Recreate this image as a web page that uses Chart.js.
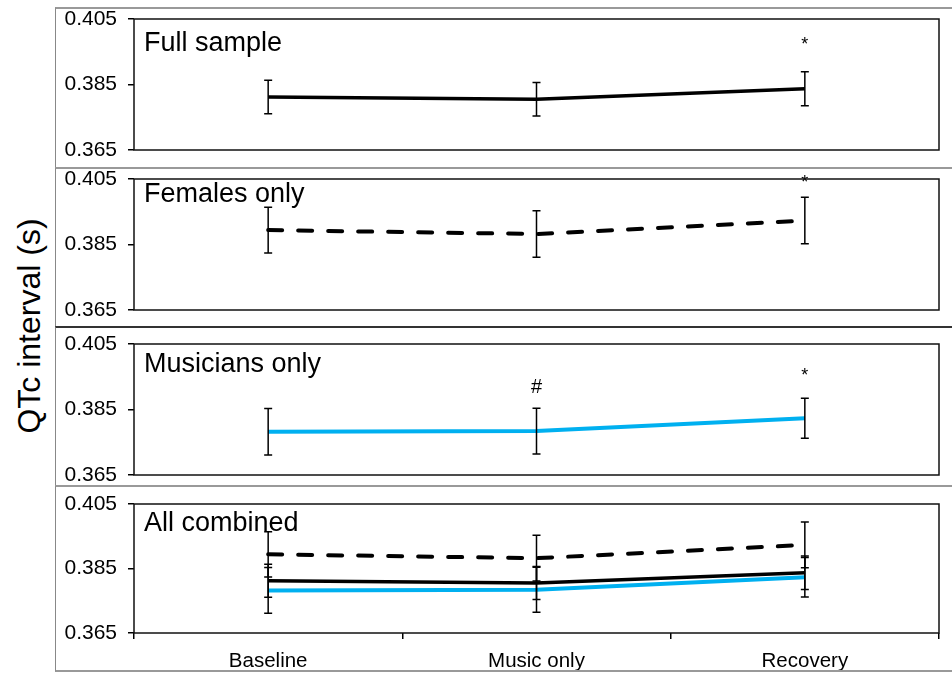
<!DOCTYPE html>
<html>
<head>
<meta charset="utf-8">
<script src="https://cdn.jsdelivr.net/npm/chart.js@4.4.0/dist/chart.umd.min.js"></script>
<style>
  html, body { margin: 0; padding: 0; background: #fff; }
  body { width: 952px; height: 673px; position: relative; overflow: hidden; font-family: "Liberation Sans", Arial, sans-serif; }
  .panel { position: absolute; left: 55px; width: 897px; box-sizing: border-box; border-left: 1px solid #888; border-top: 2px solid #999; }
  .panel canvas { display: block; }
  #p3 { border-top-color: #333; }
  #p4 { border-bottom: 2px solid #999; }
  #ytitle { position: absolute; left: 29px; top: 326px; transform: translate(-50%, -50%) rotate(-90deg); font-size: 32px; white-space: nowrap; color: #000; }
</style>
</head>
<body>
<div class="panel" id="p1" style="top:7px;height:160px"><canvas id="c1" width="896" height="158"></canvas></div>
<div class="panel" id="p2" style="top:167px;height:159px"><canvas id="c2" width="896" height="157"></canvas></div>
<div class="panel" id="p3" style="top:326px;height:159px"><canvas id="c3" width="896" height="157"></canvas></div>
<div class="panel" id="p4" style="top:485px;height:187px"><canvas id="c4" width="896" height="183"></canvas></div>
<div id="ytitle">QTc interval (s)</div>
<script>
// values
const categories = ['Baseline', 'Music only', 'Recovery'];
const fullMean = [0.3812, 0.3805, 0.3837];
const fullErr = [0.0051, 0.0051, 0.0052];
const femaleMean = [0.3894, 0.3882, 0.3923];
const femaleErr = [0.0070, 0.0071, 0.0071];
const musicianMean = [0.3782, 0.3784, 0.3823];
const musicianErr = [0.0071, 0.0070, 0.0061];
const yTicks = [0.365, 0.385, 0.405];
const fullSig = ['', '', '*'];
const femaleSig = ['', '', '*'];
const musicianSig = ['', '#', '*'];

const fontFam = '"Liberation Sans", Arial, sans-serif';

function fullSet() {
    return { label: 'Full sample', data: fullMean, errorBars: fullErr, borderColor: '#000', borderWidth: 3.5 };
}
function femaleSet() {
    return { label: 'Females only', data: femaleMean, errorBars: femaleErr, borderColor: '#000', borderWidth: 4,
             borderDash: [14, 16], borderCapStyle: 'round' };
}
function musicianSet() {
    return { label: 'Musicians only', data: musicianMean, errorBars: musicianErr, borderColor: '#00b0f0', borderWidth: 4 };
}

const panelDecor = {
    id: 'panelDecor',
    afterDatasetsDraw(chart, args, opts) {
        const { ctx, chartArea, scales } = chart;
        const x = scales.x, y = scales.y;
        ctx.save();
        // error bars
        ctx.strokeStyle = '#000';
        ctx.lineWidth = 1.5;
        chart.data.datasets.forEach(ds => {
            ds.data.forEach((v, i) => {
                const px = x.getPixelForValue(i);
                const top = y.getPixelForValue(v + ds.errorBars[i]);
                const bot = y.getPixelForValue(v - ds.errorBars[i]);
                ctx.beginPath();
                ctx.moveTo(px, top); ctx.lineTo(px, bot);
                ctx.moveTo(px - 4, top); ctx.lineTo(px + 4, top);
                ctx.moveTo(px - 4, bot); ctx.lineTo(px + 4, bot);
                ctx.stroke();
            });
        });
        // significance marks
        if (opts.sig) {
            ctx.fillStyle = '#000';
            ctx.textAlign = 'center';
            ctx.textBaseline = 'middle';
            opts.sig.forEach((s, i) => {
                if (!s) return;
                ctx.font = (s === '#' ? '20px ' : '18px ') + fontFam;
                ctx.fillText(s, x.getPixelForValue(i), y.getPixelForValue(opts.sigY[i]));
            });
        }
        // box
        ctx.strokeStyle = '#111';
        ctx.lineWidth = 1.5;
        ctx.strokeRect(chartArea.left, chartArea.top, chartArea.width, chartArea.height);
        // panel title
        ctx.font = '27px ' + fontFam;
        ctx.fillStyle = '#000';
        ctx.textAlign = 'left';
        ctx.textBaseline = 'alphabetic';
        ctx.fillText(opts.title, chartArea.left + 10, chartArea.top + opts.titleOffset);
        ctx.restore();
    }
};

function makePanel(id, datasets, decor, pad, showX) {
    new Chart(document.getElementById(id), {
        type: 'line',
        data: { labels: categories, datasets: datasets },
        plugins: [panelDecor],
        options: {
            responsive: false,
            animation: false,
            layout: { padding: { top: pad.top, bottom: pad.bottom, left: 0, right: 13 } },
            elements: { point: { radius: 0, hoverRadius: 0 }, line: { tension: 0 } },
            plugins: { legend: { display: false }, tooltip: { enabled: false }, panelDecor: decor },
            scales: {
                x: {
                    type: 'category',
                    display: showX,
                    offset: true,
                    grid: { offset: true, drawOnChartArea: false, drawTicks: true, tickLength: 6, color: '#000', lineWidth: 1.5 },
                    border: { display: false },
                    ticks: { color: '#000', font: { family: fontFam, size: 20.5 }, padding: 10, maxRotation: 0 },
                    afterFit(s) { s.height = showX ? 37 : 0; }
                },
                y: {
                    min: 0.365, max: 0.405,
                    afterBuildTicks(s) { s.ticks = yTicks.map(v => ({ value: v })); },
                    grid: { drawOnChartArea: false, drawTicks: true, tickLength: 6, color: '#000', lineWidth: 1.5 },
                    border: { display: false },
                    ticks: { color: '#000', font: { family: fontFam, size: 21 }, padding: 11,
                             callback: v => v.toFixed(3) },
                    afterFit(s) { s.width = 78; s.paddingTop = 0; s.paddingBottom = 0; }
                }
            }
        }
    });
}

makePanel('c1', [fullSet()],
    { title: 'Full sample', titleOffset: 32, sig: fullSig, sigY: [0, 0, 0.3972] },
    { top: 10, bottom: 17 }, false);
makePanel('c2', [femaleSet()],
    { title: 'Females only', titleOffset: 23, sig: femaleSig, sigY: [0, 0, 0.4038] },
    { top: 10, bottom: 16 }, false);
makePanel('c3', [musicianSet()],
    { title: 'Musicians only', titleOffset: 28, sig: musicianSig, sigY: [0, 0.3916, 0.3953] },
    { top: 16, bottom: 10 }, false);
makePanel('c4', [femaleSet(), fullSet(), musicianSet()],
    { title: 'All combined', titleOffset: 27 },
    { top: 17, bottom: 0 }, true);
</script>
</body>
</html>
